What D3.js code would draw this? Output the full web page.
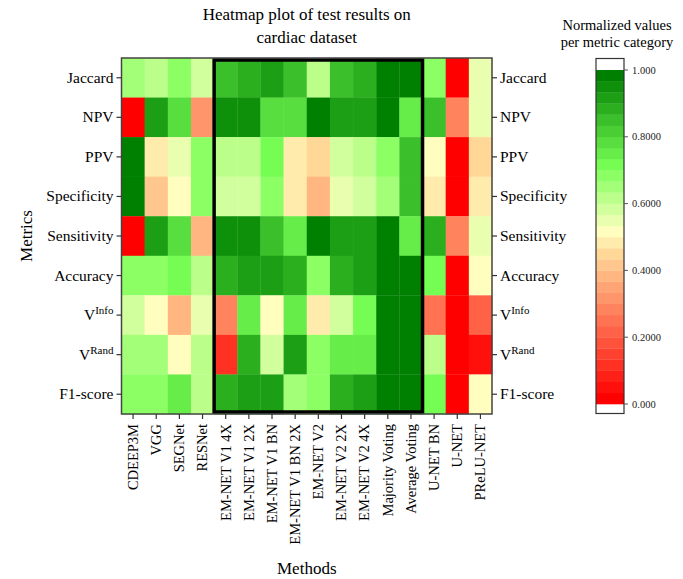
<!DOCTYPE html>
<html>
<head>
<meta charset="utf-8">
<script src="https://cdn.jsdelivr.net/npm/d3@7"></script>
<style>
  html, body { margin: 0; padding: 0; background: #fff; }
  svg { display: block; font-family: "Liberation Serif", "Times New Roman", serif; }
</style>
</head>
<body>
<svg id="chart" width="683" height="579"></svg>
<script>
// Methods (columns) and metrics (rows)
const methods = ["CDEEP3M", "VGG", "SEGNet", "RESNet", "EM-NET V1 4X", "EM-NET V1 2X",
  "EM-NET V1 BN", "EM-NET V1 BN 2X", "EM-NET V2", "EM-NET V2 2X", "EM-NET V2 4X",
  "Majority Voting", "Average Voting", "U-NET BN", "U-NET", "PReLU-NET"];
const metrics = ["Jaccard", "NPV", "PPV", "Specificity", "Sensitivity", "Accuracy", "VInfo", "VRand", "F1-score"];

// Normalized score per metric, one value per method (same order as methods)
const jaccard     = [0.66, 0.62, 0.68, 0.59, 0.85, 0.88, 0.92, 0.85, 0.62, 0.85, 0.88, 1.00, 1.00, 0.68, 0.00, 0.54];
const npv         = [0.00, 0.92, 0.78, 0.32, 0.95, 0.95, 0.78, 0.78, 1.00, 0.92, 0.92, 1.00, 0.75, 0.85, 0.29, 0.56];
const ppv         = [1.00, 0.47, 0.54, 0.68, 0.62, 0.62, 0.72, 0.49, 0.44, 0.59, 0.62, 0.68, 0.85, 0.52, 0.00, 0.44];
const specificity = [1.00, 0.41, 0.52, 0.68, 0.59, 0.59, 0.68, 0.49, 0.38, 0.56, 0.59, 0.66, 0.85, 0.49, 0.00, 0.47];
const sensitivity = [0.00, 0.92, 0.78, 0.38, 0.95, 0.95, 0.85, 0.75, 1.00, 0.92, 0.92, 1.00, 0.75, 0.88, 0.29, 0.54];
const accuracy    = [0.68, 0.68, 0.72, 0.62, 0.88, 0.92, 0.92, 0.88, 0.68, 0.88, 0.92, 1.00, 1.00, 0.72, 0.00, 0.52];
const vInfo       = [0.59, 0.52, 0.38, 0.56, 0.29, 0.75, 0.52, 0.75, 0.49, 0.59, 0.72, 1.00, 1.00, 0.25, 0.00, 0.21];
const vRand       = [0.66, 0.66, 0.52, 0.62, 0.13, 0.88, 0.59, 0.92, 0.68, 0.75, 0.75, 1.00, 1.00, 0.61, 0.00, 0.05];
const f1Score     = [0.68, 0.68, 0.75, 0.62, 0.88, 0.92, 0.92, 0.66, 0.68, 0.88, 0.92, 1.00, 1.00, 0.72, 0.00, 0.52];

const rows = [jaccard, npv, ppv, specificity, sensitivity, accuracy, vInfo, vRand, f1Score];

// Colour bar ticks
const legendTicks = [1.0, 0.8, 0.6, 0.4, 0.2, 0.0];
const legendTickLabels = ["1.000", "0.8000", "0.6000", "0.4000", "0.2000", "0.000"];

// Methods enclosed by the highlight frame
const highlightFirst = "EM-NET V1 4X";
const highlightLast = "Average Voting";

const cells = [];
metrics.forEach((m, r) => rows[r].forEach((v, c) => cells.push({ metric: m, method: methods[c], value: v })));

const svg = d3.select("#chart");
const plot = { left: 121.5, right: 492, top: 58, bottom: 414 };

const x = d3.scaleBand().domain(methods).range([plot.left, plot.right]).padding(0);
const y = d3.scaleBand().domain(metrics).range([plot.top, plot.bottom]).padding(0);

// Red -> yellow -> green ramp, quantized into 30 levels
const ramp = d3.scaleLinear()
  .domain([0, 0.25, 0.45, 0.52, 0.72, 1])
  .range(["#ff0000", "#ff7755", "#ffd999", "#ffffc0", "#77ff55", "#008000"])
  .interpolate(d3.interpolateRgb);
const nLevels = 30;
const levels = d3.range(nLevels).map(i => ramp(i / (nLevels - 1)));
const color = d3.scaleQuantize().domain([0, 1]).range(levels);

// Cells
svg.append("g").selectAll("rect").data(cells).join("rect")
  .attr("x", d => x(d.method))
  .attr("y", d => y(d.metric))
  .attr("width", x.bandwidth() + 0.3)
  .attr("height", y.bandwidth() + 0.3)
  .attr("fill", d => color(d.value));

// Highlight frame
const hx0 = x(highlightFirst), hx1 = x(highlightLast) + x.bandwidth();
svg.append("rect")
  .attr("x", hx0).attr("y", plot.top + 2)
  .attr("width", hx1 - hx0).attr("height", plot.bottom - plot.top - 4)
  .attr("fill", "none").attr("stroke", "#000").attr("stroke-width", 3.5);

// Plot frame
svg.append("rect")
  .attr("x", plot.left).attr("y", plot.top)
  .attr("width", plot.right - plot.left).attr("height", plot.bottom - plot.top)
  .attr("fill", "none").attr("stroke", "#444").attr("stroke-width", 1.5);

// Row label with superscript for VInfo / VRand
function labelRow(sel) {
  sel.each(function(d) {
    const t = d3.select(this);
    if (d === "VInfo" || d === "VRand") {
      t.text(null);
      t.append("tspan").text("V");
      t.append("tspan").attr("baseline-shift", "super").attr("font-size", "11px").text(d.slice(1));
    }
  });
}

const tickFont = "15.5px";
const axisLeft = svg.append("g").attr("transform", `translate(${plot.left},0)`)
  .call(d3.axisLeft(y).tickSize(5).tickSizeOuter(0).tickPadding(3));
const axisRight = svg.append("g").attr("transform", `translate(${plot.right},0)`)
  .call(d3.axisRight(y).tickSize(5).tickSizeOuter(0).tickPadding(3));
[axisLeft, axisRight].forEach(g => {
  g.select(".domain").remove();
  g.selectAll(".tick line").attr("stroke", "#333").attr("stroke-width", 1.2);
  g.selectAll(".tick text").attr("font-size", tickFont).attr("fill", "#000")
    .attr("font-family", "Liberation Serif").call(labelRow);
});

const axisBottom = svg.append("g").attr("transform", `translate(0,${plot.bottom})`)
  .call(d3.axisBottom(x).tickSize(5).tickSizeOuter(0));
axisBottom.select(".domain").remove();
axisBottom.selectAll(".tick line").attr("stroke", "#333").attr("stroke-width", 1.2);
axisBottom.selectAll(".tick text")
  .attr("font-size", "14.5px").attr("fill", "#000").attr("font-family", "Liberation Serif")
  .attr("transform", "rotate(-90)")
  .attr("text-anchor", "end")
  .attr("x", -10).attr("y", 0).attr("dy", "0.33em");

// Title
const title = svg.append("text").attr("text-anchor", "middle").attr("font-size", "17px");
title.append("tspan").attr("x", (plot.left + plot.right) / 2).attr("y", 20).text("Heatmap plot of test results on");
title.append("tspan").attr("x", (plot.left + plot.right) / 2).attr("y", 43).text("cardiac dataset");

// Axis titles
svg.append("text").attr("text-anchor", "middle").attr("font-size", "17px")
  .attr("transform", `translate(32,${(plot.top + plot.bottom) / 2}) rotate(-90)`)
  .text("Metrics");
svg.append("text").attr("text-anchor", "middle").attr("font-size", "17px")
  .attr("x", (plot.left + plot.right) / 2).attr("y", 574)
  .text("Methods");

// Colour bar
const lg = { x: 596, w: 28, top: 58.5, bottom: 413.5 };
const ly = d3.scaleLinear().domain([0, 1]).range([404, 70]);
svg.append("g").selectAll("rect").data(levels).join("rect")
  .attr("x", lg.x)
  .attr("y", (d, i) => ly((i + 1) / nLevels))
  .attr("width", lg.w)
  .attr("height", (d, i) => ly(i / nLevels) - ly((i + 1) / nLevels) + 0.3)
  .attr("fill", d => d);
svg.append("rect")
  .attr("x", lg.x).attr("y", lg.top).attr("width", lg.w).attr("height", lg.bottom - lg.top)
  .attr("fill", "none").attr("stroke", "#333").attr("stroke-width", 1.2);
const lt = svg.append("g").selectAll("g").data(legendTicks).join("g")
  .attr("transform", d => `translate(${lg.x + lg.w},${ly(d)})`);
lt.append("line").attr("x1", 0).attr("x2", 4).attr("stroke", "#555").attr("stroke-width", 1);
lt.append("text").attr("x", 8).attr("dy", "0.35em").attr("font-size", "10.5px").attr("fill", "#222")
  .text((d, i) => legendTickLabels[i]);

const ltitle = svg.append("text").attr("text-anchor", "middle").attr("font-size", "14.5px");
ltitle.append("tspan").attr("x", 617).attr("y", 30).text("Normalized values");
ltitle.append("tspan").attr("x", 617).attr("y", 47).text("per metric category");
</script>
</body>
</html>
